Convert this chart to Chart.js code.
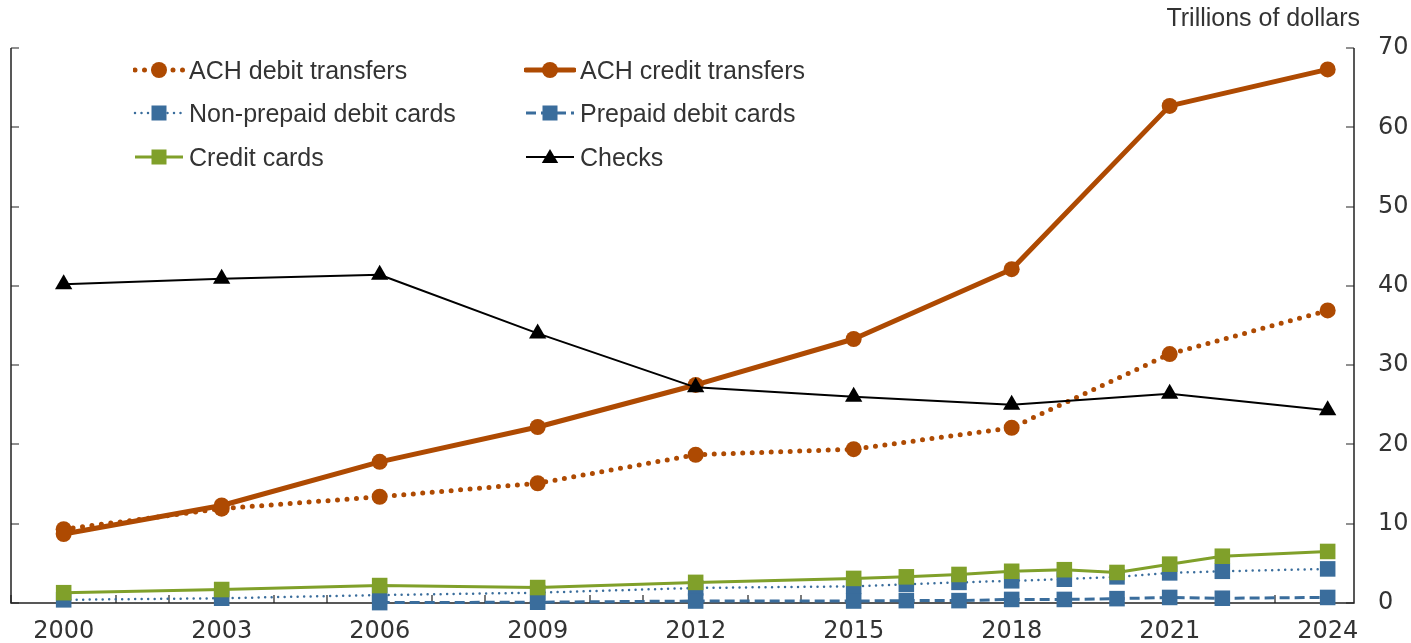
<!DOCTYPE html>
<html><head><meta charset="utf-8">
<script src="https://cdn.jsdelivr.net/npm/chart.js@4.4.1/dist/chart.umd.min.js"></script>
<style>
html,body{margin:0;padding:0;background:#fff;}
#wrap{position:relative;width:1411px;height:643px;overflow:hidden;}
canvas{position:absolute;left:0;top:0;}
#unit{position:absolute;right:51px;top:2px;font:25px "Liberation Sans",Arial,sans-serif;color:#333;line-height:30px;white-space:nowrap;}
.item{position:absolute;display:flex;align-items:center;height:30px;white-space:nowrap;font:25px "Liberation Sans",Arial,sans-serif;color:#333;}
.item svg{margin-right:4px;display:block;}
</style></head><body>
<div id="wrap"><canvas id="c" width="1411" height="643"></canvas><div id="unit">Trillions of dollars</div><div id="legend"></div></div>
<script>
// ---- data (trillions of dollars) ----
const achYears = [2000, 2003, 2006, 2009, 2012, 2015, 2018, 2021, 2024];
const achDebit = [9.3, 11.9, 13.4, 15.1, 18.7, 19.4, 22.1, 31.4, 36.9];
const achCredit = [8.7, 12.3, 17.8, 22.2, 27.5, 33.3, 42.1, 62.7, 67.3];
const checkYears = [2000, 2003, 2006, 2009, 2012, 2015, 2018, 2021, 2024];
const checks = [40.2, 40.9, 41.4, 34.0, 27.2, 26.0, 25.0, 26.4, 24.3];
const cardYears = [2000, 2003, 2006, 2009, 2012, 2015, 2016, 2017, 2018, 2019, 2020, 2021, 2022, 2024];
const creditCards = [1.3, 1.7, 2.2, 1.95, 2.6, 3.1, 3.3, 3.6, 4.0, 4.2, 3.85, 4.9, 5.9, 6.5];
const nonPrepaidDebit = [0.4, 0.6, 1.0, 1.3, 1.9, 2.1, 2.35, 2.6, 2.8, 3.0, 3.3, 3.8, 4.0, 4.3];
const prepaidYears = [2006, 2009, 2012, 2015, 2016, 2017, 2018, 2019, 2020, 2021, 2022, 2024];
const prepaidDebit = [0.05, 0.1, 0.25, 0.25, 0.3, 0.3, 0.45, 0.45, 0.55, 0.7, 0.6, 0.7];
const xTickYears = [2000, 2003, 2006, 2009, 2012, 2015, 2018, 2021, 2024];
const yTickValues = [0, 10, 20, 30, 40, 50, 60, 70];
const unitLabel = 'Trillions of dollars';

const ORANGE = '#AE4A02', BLUE = '#3A6D9C', GREEN = '#80A02A', BLACK = '#000000';
const pts = (xs, ys) => xs.map((x, i) => ({x, y: ys[i]}));

const series = [
  {label: 'ACH debit transfers', xs: achYears, ys: achDebit, color: ORANGE, width: 5, dash: [0, 9.5], cap: 'round', marker: 'circle', r: 8, order: 5},
  {label: 'ACH credit transfers', xs: achYears, ys: achCredit, color: ORANGE, width: 5, dash: [], cap: 'round', marker: 'circle', r: 8, order: 4},
  {label: 'Non-prepaid debit cards', xs: cardYears, ys: nonPrepaidDebit, color: BLUE, width: 2.5, dash: [0, 6.5], cap: 'round', marker: 'rect', r: 11, order: 3},
  {label: 'Prepaid debit cards', xs: prepaidYears, ys: prepaidDebit, color: BLUE, width: 3, dash: [10, 5], cap: 'butt', marker: 'rect', r: 11, order: 2},
  {label: 'Credit cards', xs: cardYears, ys: creditCards, color: GREEN, width: 3, dash: [], cap: 'butt', marker: 'rect', r: 11, order: 1},
  {label: 'Checks', xs: checkYears, ys: checks, color: BLACK, width: 2, dash: [], cap: 'butt', marker: 'triangle', r: 10, order: 0}
];

const datasets = series.map(s => ({
  label: s.label,
  data: pts(s.xs, s.ys),
  borderColor: s.color,
  backgroundColor: s.color,
  borderWidth: s.width,
  borderDash: s.dash,
  borderCapStyle: s.cap,
  borderJoinStyle: 'round',
  pointStyle: s.marker,
  pointRadius: s.r,
  pointHoverRadius: s.r,
  pointBorderWidth: 0,
  pointBackgroundColor: s.color,
  tension: 0,
  order: s.order,
  clip: false
}));

const axesPlugin = {
  id: 'axesPlugin',
  beforeDatasetsDraw(chart) {
    const {ctx, chartArea: a, scales: {x, y}} = chart;
    ctx.save();
    ctx.strokeStyle = '#222';
    ctx.lineWidth = 1.5;
    ctx.beginPath();
    ctx.moveTo(a.left, a.top); ctx.lineTo(a.left, a.bottom); ctx.lineTo(a.right, a.bottom); ctx.lineTo(a.right, a.top);
    ctx.stroke();
    ctx.lineWidth = 1.2;
    ctx.beginPath();
    for (const t of y.ticks) {
      const py = Math.round(y.getPixelForValue(t.value));
      ctx.moveTo(a.left, py); ctx.lineTo(a.left + 8, py);
      ctx.moveTo(a.right, py); ctx.lineTo(a.right - 8, py);
    }
    for (let yr = Math.ceil(x.min); yr <= x.max; yr++) {
      const px = Math.round(x.getPixelForValue(yr));
      ctx.moveTo(px, a.bottom); ctx.lineTo(px, a.bottom - 8);
    }
    ctx.stroke();
    ctx.restore();
  }
};

new Chart(document.getElementById('c'), {
  type: 'line',
  data: {datasets},
  plugins: [axesPlugin],
  options: {
    responsive: false,
    animation: false,
    events: [],
    layout: {padding: {left: 8, top: 48, right: 0, bottom: 0}},
    plugins: {legend: {display: false}, tooltip: {enabled: false}, title: {display: false}},
    scales: {
      x: {
        type: 'linear', min: 1999, max: 2024.5,
        grid: {display: false}, border: {display: false},
        afterBuildTicks: s => { s.ticks = xTickYears.map(v => ({value: v})); },
        afterFit: s => { s.height = 40; },
        ticks: {color: '#333', font: {family: 'DejaVu Sans', size: 24}, padding: 6, maxRotation: 0, autoSkip: false, callback: v => String(v)}
      },
      y: {
        type: 'linear', position: 'right', min: 0, max: 70,
        grid: {display: false}, border: {display: false},
        afterBuildTicks: s => { s.ticks = yTickValues.map(v => ({value: v})); },
        afterFit: s => { s.width = 57; },
        ticks: {color: '#333', font: {family: 'DejaVu Sans', size: 24}, padding: 16}
      }
    }
  }
});

// ---- HTML legend built from the series definitions ----
document.getElementById('unit').textContent = unitLabel;
const legend = document.getElementById('legend');
const colX = [133, 524];
const rowY = [70, 113, 157];
series.forEach((s, i) => {
  const col = i % 2, row = Math.floor(i / 2);
  const div = document.createElement('div');
  div.className = 'item';
  div.style.left = colX[col] + 'px';
  div.style.top = (rowY[row] - 15) + 'px';
  let mk = '';
  if (s.marker === 'circle') mk = `<circle cx="26" cy="15" r="${s.r}" fill="${s.color}"/>`;
  else if (s.marker === 'rect') mk = `<rect x="18.5" y="7.5" width="15" height="15" fill="${s.color}"/>`;
  else mk = `<polygon points="26,7 34.2,21 17.8,21" fill="${s.color}"/>`;
  div.innerHTML = `<svg width="52" height="30" viewBox="0 0 52 30"><line x1="2" y1="15" x2="50" y2="15" stroke="${s.color}" stroke-width="${s.width}" stroke-dasharray="${s.dash.join(' ')}" stroke-linecap="${s.cap}"/>${mk}</svg><span>${s.label}</span>`;
  legend.appendChild(div);
});
</script>
</body></html>
